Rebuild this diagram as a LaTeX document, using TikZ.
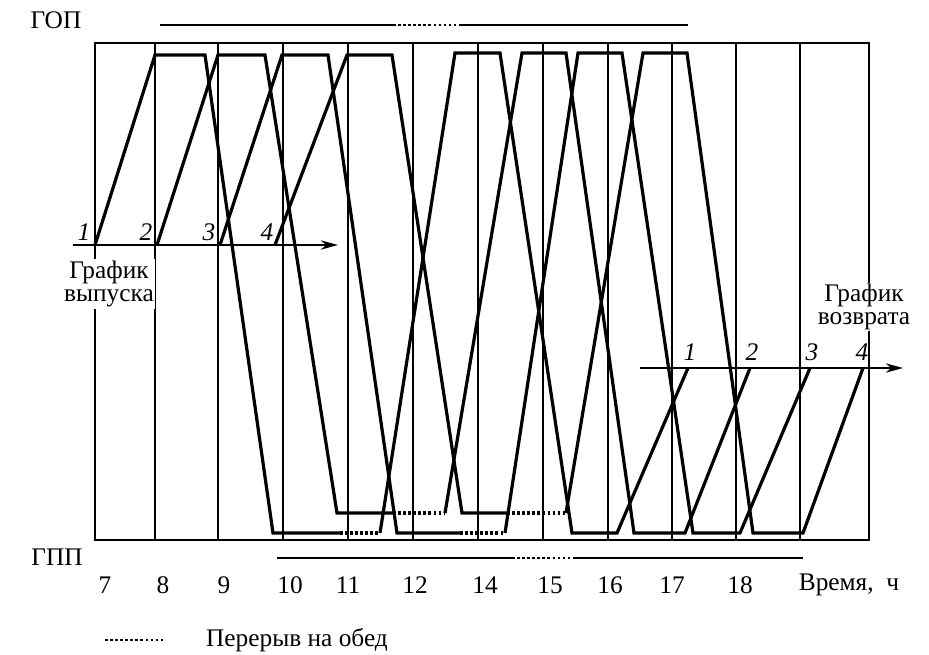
\documentclass[tikz,border=0pt]{standalone}
\usepackage{fontspec}
\setmainfont{Liberation Serif}
\usetikzlibrary{arrows.meta}
\begin{document}
\begin{tikzpicture}[x=0.75pt,y=-0.75pt,
  gridln/.style={line width=0.9pt},
  framebox/.style={line width=1.3pt},
  bus/.style={line width=2.4pt, line join=miter},
  brk/.style={line width=2.4pt, dash pattern=on 2pt off 1.8pt},
  shiftln/.style={line width=2pt},
  shiftbrk/.style={line width=2pt, dash pattern=on 2pt off 1.8pt},
  axisln/.style={line width=1.3pt, -{Stealth[length=13pt,width=7pt]}},
  lbl/.style={font=\fontsize{19}{17.5}\selectfont, inner sep=0pt},
  num/.style={font=\fontsize{19}{20}\selectfont\itshape, inner sep=0pt}
]
\useasboundingbox (0,0) rectangle (929,654);
% frame and grid
\draw[framebox] (95,43) rectangle (869,540);
\foreach \gx in {155,218,283,348,413,478,543,608,672,736,800}
  \draw[gridln] (\gx,43) -- (\gx,540);
% shift lines
\draw[shiftln] (160,25) -- (393,25);
\draw[shiftbrk] (393,25) -- (460,25);
\draw[shiftln] (460,25) -- (688,25);
\draw[shiftln] (277,558) -- (512,558);
\draw[shiftbrk] (512,558) -- (575,558);
\draw[shiftln] (575,558) -- (803,558);
% release and return axes
\coordinate (relA) at (73,245);
\coordinate (relB) at (338,245);
\coordinate (retA) at (640,368);
\coordinate (retB) at (903,368);
\draw[axisln] (relA) -- (relB);
\draw[axisln] (retA) -- (retB);
% bus 1
\draw[bus] (95,245) -- (155,55) -- (205,55) -- (273,533) -- (340,533);
\draw[brk] (340,533) -- (380,533);
\draw[bus] (380,533) -- (455,53) -- (500,53) -- (572,533) -- (617,533) -- (688,368);
% bus 2
\draw[bus] (157,245) -- (218,55) -- (265,55) -- (337,513) -- (393,513);
\draw[brk] (393,513) -- (445,513);
\draw[bus] (445,513) -- (522,53) -- (566,53) -- (634,533) -- (685,533) -- (750,368);
% bus 3
\draw[bus] (220,245) -- (282,55) -- (328,55) -- (397,533) -- (460,533);
\draw[brk] (460,533) -- (505,533);
\draw[bus] (505,533) -- (578,53) -- (622,53) -- (693,533) -- (740,533) -- (810,368);
% bus 4
\draw[bus] (275,245) -- (347,55) -- (392,55) -- (462,513) -- (507,513);
\draw[brk] (507,513) -- (566,513);
\draw[bus] (566,513) -- (643,53) -- (687,53) -- (753,533) -- (803,533) -- (863,368);
% labels
\node[lbl] (gop) at (56,20) {ГОП};
\node[lbl] (gpp) at (57,557) {ГПП};
\node[lbl, fill=white, align=center, inner sep=1pt] (vyp) at (109,284) {График\\выпуска};
\node[lbl, fill=white, align=center, inner sep=1pt] (vozv) at (864,307) {График\\возврата};
\node[num] (r1) at (84,232) {1};
\node[num] (r2) at (146,232) {2};
\node[num] (r3) at (209,232) {3};
\node[num] (r4) at (267,232) {4};
\node[num] (v1) at (690,352) {1};
\node[num] (v2) at (752,352) {2};
\node[num] (v3) at (812,352) {3};
\node[num] (v4) at (862,352) {4};
\foreach \tx/\tl in {105/7,163/8,224/9,290/10,348/11,415/12,485/14,550/15,610/16,672/17,740/18}
  \node[lbl] at (\tx,585) {\tl};
\node[lbl] (time) at (849,585) {Время,\ \ ч};
\draw[shiftbrk, line width=1.6pt] (105,640) -- (163,640);
\node[lbl] (legend) at (297,640) {Перерыв на обед};
\end{tikzpicture}
\end{document}
